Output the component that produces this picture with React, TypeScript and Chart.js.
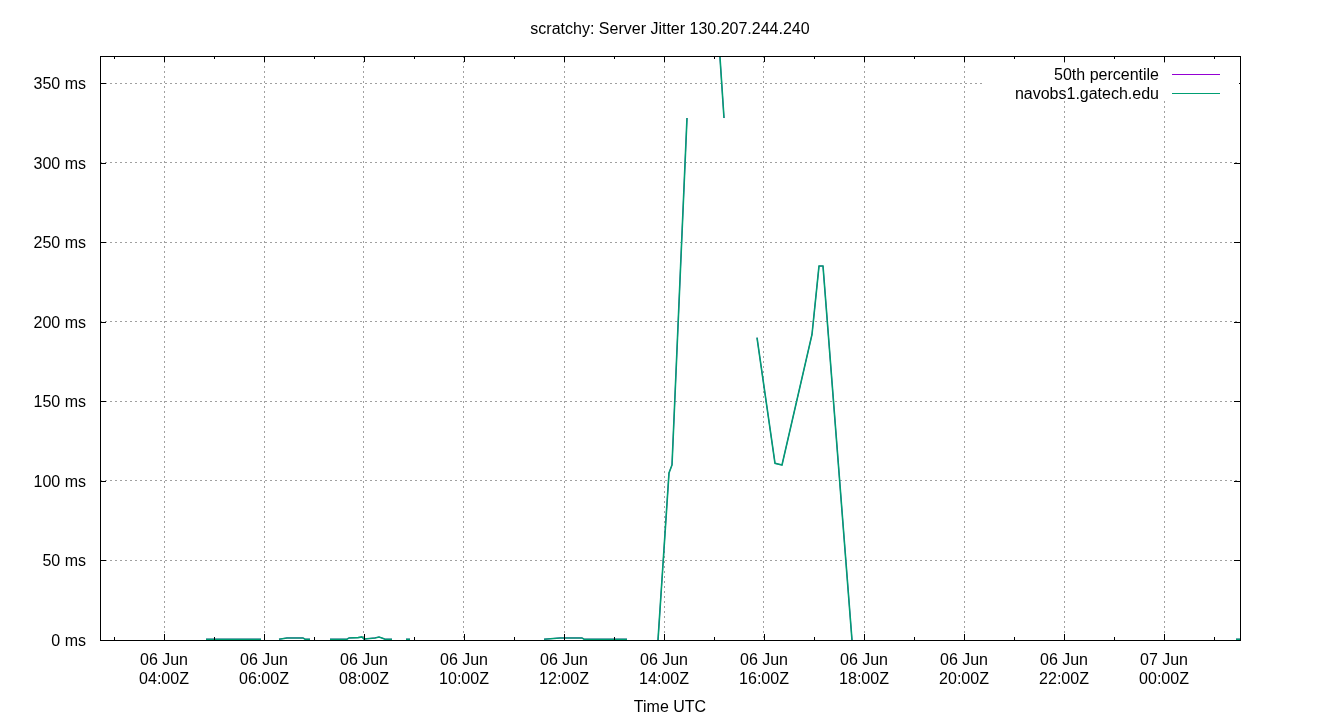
import React, { useEffect, useRef } from "react";
import { Chart, registerables } from "chart.js";

Chart.register(...registerables);

const chartTitle = "scratchy: Server Jitter 130.207.244.240";
const xAxisTitle = "Time UTC";
const seriesNames = ["50th percentile", "navobs1.gatech.edu"];
const seriesColors = ["#9400d3", "#009e73"];

// hours since 06 Jun 00:00Z
const hoursUTC = [
  4.84, 5.94, 6.12,
  6.3, 6.46, 6.78, 6.82, 6.92, 7.12,
  7.32, 7.66, 7.7, 7.88, 7.96, 8.0, 8.06, 8.22, 8.3, 8.36, 8.42, 8.56, 8.7,
  8.84, 8.92, 10.0,
  11.6, 11.92, 12.36, 12.4, 13.26, 13.5,
  13.88, 14.1, 14.16, 14.46, 14.8,
  15.08, 15.2, 15.5,
  15.86, 16.22, 16.36, 16.96, 17.1, 17.18, 17.76, 20.0,
  25.44, 25.52,
];

const jitterMs: (number | null)[] = [
  0.5, 0.5, null,
  0.5, 1.3, 1.3, 0.5, 0.5, null,
  0.5, 0.5, 1.3, 1.5, 1.9, 0.6, 0.8, 1.3, 1.9, 1.2, 0.5, 0.5, null,
  0.5, 0.5, null,
  0.5, 1.3, 1.3, 0.5, 0.5, null,
  0, 105, 110, 328, null,
  385, 328, null,
  190, 111, 110, 192, 235, 235, 0, null,
  0.5, 0.5,
];

const percentile50Ms: (number | null)[] = [
  0.5, 0.5, null,
  0.5, 1.3, 1.3, 0.5, 0.5, null,
  0.5, 0.5, 1.3, 1.5, 1.9, 0.6, 0.8, 1.3, 1.9, 1.2, 0.5, 0.5, null,
  0.5, 0.5, null,
  0.5, 1.3, 1.3, 0.5, 0.5, null,
  0, 105, 110, 328, null,
  385, 328, null,
  190, 111, 110, 192, 235, 235, 0, null,
  0.5, 0.5,
];

const xMin = 2.72;
const xMax = 25.52;
const allTickHours = [3, 4, 5, 6, 7, 8, 9, 10, 11, 12, 13, 14, 15, 16, 17, 18, 19, 20, 21, 22, 23, 24, 25];
const majorTickHours = [4, 6, 8, 10, 12, 14, 16, 18, 20, 22, 24];
const majorTickLabels = [
  ["06 Jun", "04:00Z"],
  ["06 Jun", "06:00Z"],
  ["06 Jun", "08:00Z"],
  ["06 Jun", "10:00Z"],
  ["06 Jun", "12:00Z"],
  ["06 Jun", "14:00Z"],
  ["06 Jun", "16:00Z"],
  ["06 Jun", "18:00Z"],
  ["06 Jun", "20:00Z"],
  ["06 Jun", "22:00Z"],
  ["07 Jun", "00:00Z"],
];

const yMin = 0;
const yMax = 367;
const yTickValues = [0, 50, 100, 150, 200, 250, 300, 350];
const yTickLabels = ["0 ms", "50 ms", "100 ms", "150 ms", "200 ms", "250 ms", "300 ms", "350 ms"];

const FONT = "'Liberation Sans', Arial, sans-serif";
const GRID = "#a0a0a0";

export default function App() {
  const ref = useRef<HTMLCanvasElement>(null);

  useEffect(() => {
    document.body.style.margin = "0";
    const font = { family: FONT, size: 16 };

    const framePlugin = {
      id: "frameTicks",
      afterDatasetsDraw(chart: any) {
        const { ctx, chartArea } = chart;
        const { left, right, top, bottom } = chartArea;
        const xs = chart.scales.x;
        const ys = chart.scales.y;
        ctx.save();
        ctx.strokeStyle = "#000";
        ctx.lineWidth = 1;
        ctx.setLineDash([]);
        ctx.beginPath();
        xs.ticks.forEach((t: any) => {
          const px = Math.round(xs.getPixelForValue(t.value)) + 0.5;
          const len = majorTickHours.includes(t.value) ? 6 : 3;
          ctx.moveTo(px, bottom);
          ctx.lineTo(px, bottom - len);
          ctx.moveTo(px, top);
          ctx.lineTo(px, top + len);
        });
        ys.ticks.forEach((t: any) => {
          const py = Math.round(ys.getPixelForValue(t.value)) + 0.5;
          ctx.moveTo(left, py);
          ctx.lineTo(left + 6, py);
          ctx.moveTo(right, py);
          ctx.lineTo(right - 6, py);
        });
        ctx.stroke();
        ctx.strokeRect(Math.round(left) + 0.5, Math.round(top) + 0.5, Math.round(right - left), Math.round(bottom - top));
        ctx.restore();
      },
      afterDraw(chart: any) {
        const { ctx, chartArea } = chart;
        const { right, top } = chartArea;
        ctx.save();
        ctx.fillStyle = "#fff";
        ctx.fillRect(right - 258, top + 8, 257, 37);
        ctx.font = `16px ${FONT}`;
        ctx.textAlign = "right";
        ctx.textBaseline = "middle";
        chart.data.datasets.forEach((ds: any, i: number) => {
          const y = top + 18 + i * 19;
          ctx.fillStyle = "#000";
          ctx.fillText(ds.label, right - 81, y + 1.5);
          ctx.strokeStyle = ds.borderColor;
          ctx.lineWidth = 1;
          ctx.beginPath();
          ctx.moveTo(right - 68, Math.round(y) + 0.5);
          ctx.lineTo(right - 20, Math.round(y) + 0.5);
          ctx.stroke();
        });
        ctx.restore();
      },
    };

    const chart = new Chart(ref.current!, {
      type: "line",
      data: {
        datasets: [
          {
            label: seriesNames[0],
            data: hoursUTC.map((h, i) => ({ x: h, y: percentile50Ms[i] })),
            borderColor: seriesColors[0],
            backgroundColor: seriesColors[0],
            borderWidth: 1,
            pointRadius: 0,
            spanGaps: false,
            order: 1,
          },
          {
            label: seriesNames[1],
            data: hoursUTC.map((h, i) => ({ x: h, y: jitterMs[i] })),
            borderColor: seriesColors[1],
            backgroundColor: seriesColors[1],
            borderWidth: 1.6,
            pointRadius: 0,
            spanGaps: false,
            order: 0,
          },
        ],
      } as any,
      options: {
        animation: false,
        responsive: false,
        events: [],
        layout: { padding: { left: 0, right: 0, top: 0, bottom: 0 } },
        plugins: {
          legend: { display: false },
          tooltip: { enabled: false },
          title: {
            display: true,
            text: chartTitle,
            color: "#000",
            font: { ...font, weight: "normal" },
            padding: { top: 20, bottom: 16.8 },
          },
        },
        scales: {
          x: {
            type: "linear",
            min: xMin,
            max: xMax,
            afterBuildTicks: (s: any) => {
              s.ticks = allTickHours.map((v) => ({ value: v }));
            },
            afterFit: (s: any) => {
              s.height = 80;
            },
            ticks: {
              autoSkip: false,
              maxRotation: 0,
              minRotation: 0,
              color: "#000",
              font,
              padding: 10.5,
              callback: (v: any) => {
                const i = majorTickHours.indexOf(v);
                return i >= 0 ? majorTickLabels[i] : "";
              },
            },
            grid: {
              drawTicks: false,
              lineWidth: 1,
              color: (c: any) => (c.tick && majorTickHours.includes(c.tick.value) ? GRID : "rgba(0,0,0,0)"),
            },
            border: { display: false, dash: [2, 3] },
            title: {
              display: true,
              text: xAxisTitle,
              color: "#000",
              font,
              padding: { top: 0, bottom: 2.6 },
            },
          },
          y: {
            type: "linear",
            min: yMin,
            max: yMax,
            afterBuildTicks: (s: any) => {
              s.ticks = yTickValues.map((v) => ({ value: v }));
            },
            afterFit: (s: any) => {
              s.width = 100;
            },
            ticks: {
              color: "#000",
              font,
              padding: 14,
              labelOffset: 1.5,
              callback: (v: any) => {
                const i = yTickValues.indexOf(v);
                return i >= 0 ? yTickLabels[i] : "";
              },
            },
            grid: { drawTicks: false, lineWidth: 1, color: GRID },
            border: { display: false, dash: [2, 3] },
          },
          yRightSpace: {
            type: "linear",
            position: "right",
            min: 0,
            max: 1,
            afterFit: (s: any) => {
              s.width = 100;
            },
            ticks: { display: false },
            grid: { display: false, drawTicks: false },
            border: { display: false },
          },
        },
      } as any,
      plugins: [framePlugin],
    });
    return () => chart.destroy();
  }, []);

  return (
    <div style={{ position: "absolute", left: 0, top: 0, width: 1340, height: 720, background: "#fff" }}>
      <canvas ref={ref} width={1340} height={720} style={{ display: "block" }} />
    </div>
  );
}
